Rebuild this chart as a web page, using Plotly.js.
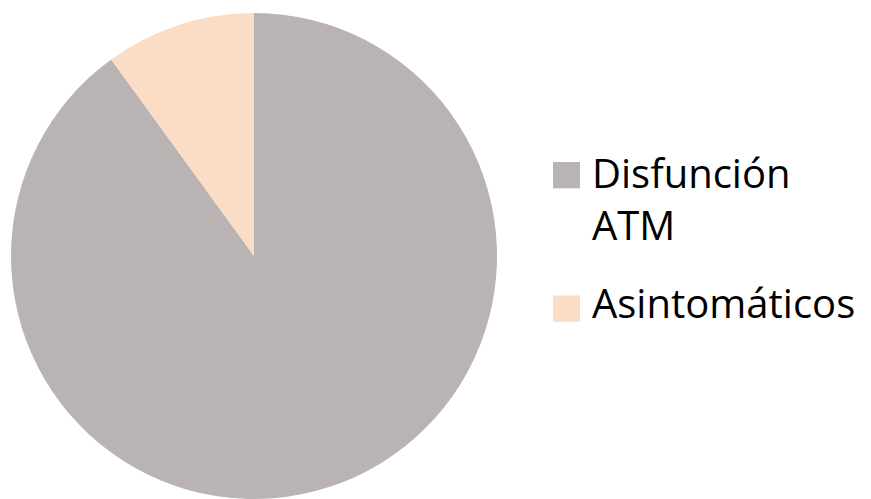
<!DOCTYPE html>
<html><head><meta charset="utf-8">
<script src="https://cdn.plot.ly/plotly-3.0.1.min.js"></script>
<style>html,body{margin:0;padding:0;background:#fff}#chart{width:871px;height:499px}</style>
</head><body><div id="chart"></div>
<script>
const labels = ["Disfunción ATM", "Asintomáticos"];
const legendText = ["Disfunción<br>ATM", "Asintomáticos"];
const values = [90, 10];
const colors = ["#b9b3b3", "#fbdcc4"];

const W = 871, H = 499;
const squareTop = [153, 290];
const textTop = [133, 267];
const shapes = [], annotations = [];
labels.forEach((l, i) => {
  shapes.push({type:"rect", xref:"paper", yref:"paper",
    x0:553/W, x1:580/W, y0:1-squareTop[i]/H, y1:1-(squareTop[i]+27)/H,
    fillcolor:colors[i], line:{width:0}});
  annotations.push({xref:"paper", yref:"paper", x:590/W, y:1-textTop[i]/H,
    xanchor:"left", yanchor:"top", align:"left", showarrow:false,
    text:legendText[i], font:{family:"Open Sans", size:40, color:"#000"}});
});

Plotly.newPlot("chart", [{
  type:"pie", labels:labels, values:values, sort:false, direction:"clockwise", rotation:0,
  marker:{colors:colors, line:{width:0}}, textinfo:"none", hoverinfo:"label+percent",
  domain:{x:[10/W, 498/W], y:[0,1]}, showlegend:false
}], {
  width:W, height:H, margin:{l:0,r:0,t:13,b:0},
  paper_bgcolor:"#fff", showlegend:false, shapes:shapes, annotations:annotations
}, {displayModeBar:false});
</script></body></html>
